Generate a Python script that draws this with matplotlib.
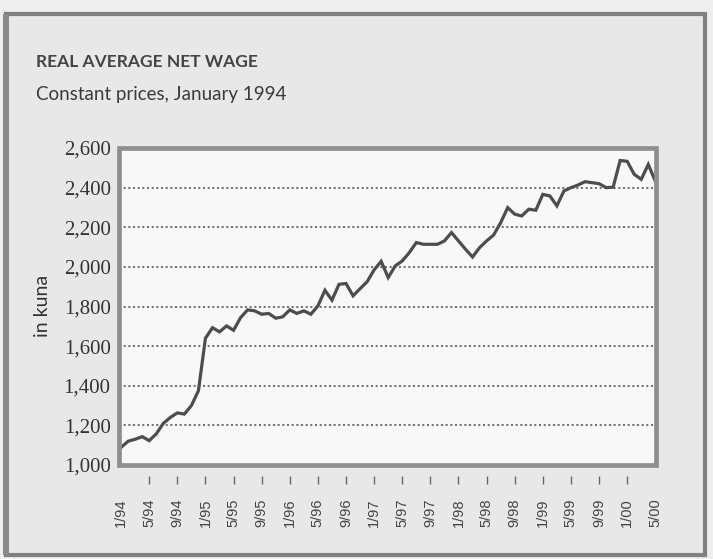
import matplotlib.pyplot as plt
from matplotlib.patches import Rectangle
import numpy as np

# Real average net wage, constant prices (January 1994), in kuna
# monthly values 1/94 .. 5/00
wage = [1089, 1120, 1130, 1143, 1123, 1157, 1210, 1240, 1263, 1257,
        1300, 1375, 1640, 1693, 1672, 1702, 1680, 1744, 1783, 1778,
        1761, 1765, 1741, 1748, 1783, 1765, 1778, 1761, 1803, 1882,
        1832, 1912, 1916, 1854, 1890, 1925, 1985, 2028, 1946, 2005,
        2030, 2072, 2123, 2114, 2114, 2114, 2131, 2173, 2131, 2089,
        2050, 2097, 2131, 2161, 2223, 2299, 2266, 2257, 2291, 2286,
        2366, 2358, 2308, 2383, 2400, 2413, 2430, 2425, 2420, 2400,
        2402, 2537, 2533, 2467, 2442, 2517, 2433]

tick_labels = ['1/94', '5/94', '9/94', '1/95', '5/95', '9/95', '1/96', '5/96',
               '9/96', '1/97', '5/97', '9/97', '1/98', '5/98', '9/98', '1/99',
               '5/99', '9/99', '1/00', '5/00']
y_ticks = [1000, 1200, 1400, 1600, 1800, 2000, 2200, 2400, 2600]

title = 'REAL AVERAGE NET WAGE'
subtitle = 'Constant prices, January 1994'
y_title = 'in kuna'

head_font = ['Lato', 'Liberation Sans', 'DejaVu Sans']

fig = plt.figure(figsize=(7.13, 5.59), dpi=100, facecolor='#eeeeee')

# outer box of the page panel
fig.patches.append(Rectangle((6 / 713, 4 / 559), 699 / 713, 541 / 559,
                             transform=fig.transFigure, facecolor='#e8e8e8',
                             edgecolor='#808080', linewidth=3, zorder=-2))
fig.patches.append(Rectangle((3 / 713, 4 / 559), 6 / 713, 541 / 559,
                             transform=fig.transFigure, facecolor='#8a8a8a',
                             edgecolor='none', zorder=-1))

ax = fig.add_axes([119 / 713, 94 / 559, 537 / 713, 317 / 559])
ax.set_zorder(5)
ax.set_facecolor('#f8f8f8')

# frame drawn as a patch so the ticks can sit detached below it
# (set the spine position first: it resets the ticks)
for s in ax.spines.values():
    s.set_visible(False)
ax.spines['bottom'].set_position(('outward', 8))
ax.add_patch(Rectangle((0, 0), 1, 1, transform=ax.transAxes, fill=False,
                       edgecolor='#8f8f8f', linewidth=3.4, clip_on=False,
                       zorder=4))

months = np.arange(len(wage))
ax.plot(months, wage, color='#4d4d4d', linewidth=2.3, solid_joinstyle='miter',
        zorder=3)

ax.set_xlim(-0.3, 76.1)
ax.set_ylim(1000, 2600)

# dotted gridlines
ax.set_yticks(y_ticks)
ax.set_yticklabels([f'{v:,}' for v in y_ticks], family='Liberation Serif',
                   fontsize=15, color='#333333')
ax.grid(axis='y', color='#555555', linestyle=(0, (1.2, 1.6)), linewidth=1.2)
ax.tick_params(axis='y', length=0, pad=6)

ax.set_xticks(np.arange(0, len(wage), 4))
ax.set_xticklabels(tick_labels, rotation=90, family='Liberation Sans',
                   fontsize=10.5, color='#444444')
ax.tick_params(axis='x', length=6, width=1, color='#666666', pad=10)
xt = ax.xaxis.get_major_ticks()
xt[0].tick1line.set_visible(False)
xt[-1].tick1line.set_visible(False)

fig.text(36 / 713, 1 - 67 / 559, title, family=head_font, fontsize=12.5,
         fontweight='bold', color='#444444', va='baseline')
fig.text(36 / 713, 1 - 100 / 559, subtitle, family=head_font, fontsize=13.5,
         color='#3a3a3a', va='baseline')
fig.text(42 / 713, 1 - 306 / 559, y_title, family=head_font, fontsize=14,
         color='#333333', rotation=90, ha='center', va='center')

plt.savefig('out.png', dpi=100, facecolor=fig.get_facecolor())
